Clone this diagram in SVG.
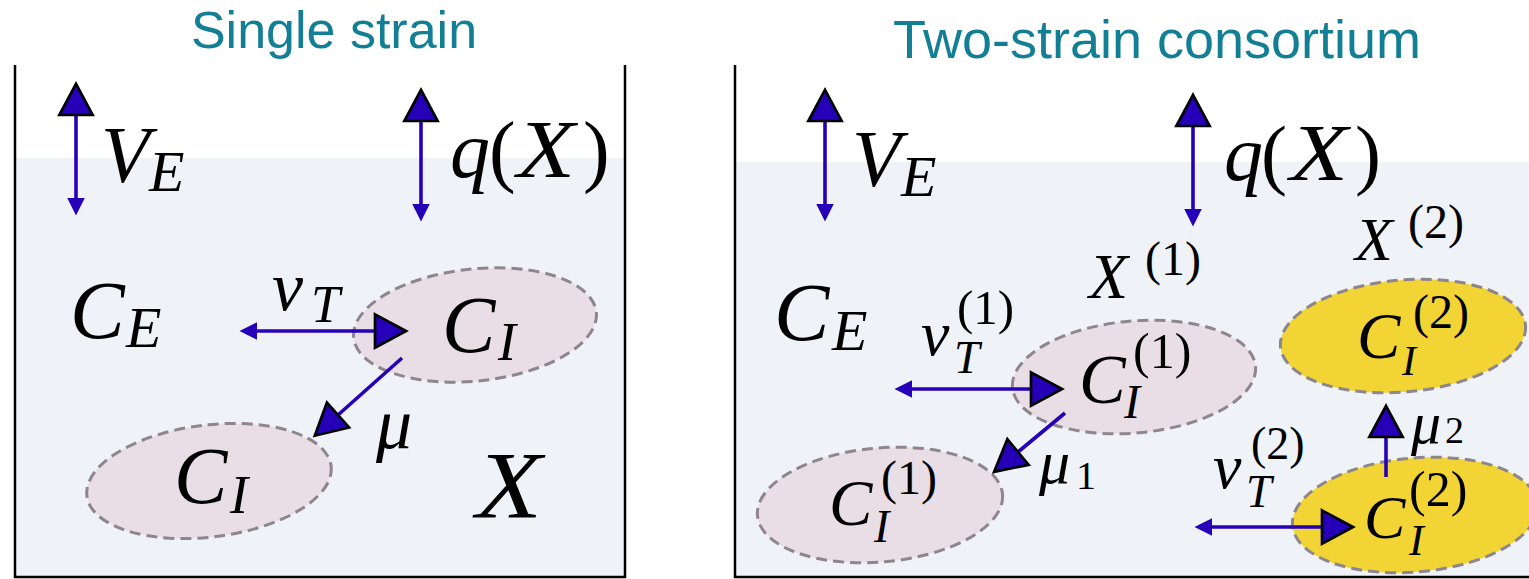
<svg xmlns="http://www.w3.org/2000/svg" width="1529" height="579" viewBox="0 0 1529 579">
<style>
.title{font-family:"Liberation Sans",Arial,sans-serif;fill:#137f95;}
.m{font-family:"Liberation Serif","DejaVu Serif",serif;font-style:italic;fill:#000;}
.u{font-family:"Liberation Serif","DejaVu Serif",serif;font-style:normal;fill:#000;}
.wall{stroke:#000;stroke-width:2.5;fill:none;}
.liq{fill:#eff3f8;}
.pink{fill:#e9dee6;stroke:#8e868c;stroke-width:3;stroke-dasharray:11 6;}
.yel{fill:#f2d435;stroke:#8e868c;stroke-width:3;stroke-dasharray:11 6;}
.arr{stroke:#2600b8;stroke-width:3.6;fill:none;marker-start:url(#small);marker-end:url(#big);}
.arr1{stroke:#2600b8;stroke-width:3.6;fill:none;marker-end:url(#big);}
</style>
<defs>
<marker id="big" markerUnits="userSpaceOnUse" markerWidth="40" markerHeight="40" viewBox="-2 -18 32 36" refX="0" refY="0" orient="auto" overflow="visible">
<path d="M0,-15 L28,0 L0,15 Z" fill="#2600b8" stroke="#000" stroke-width="2.4" stroke-linejoin="miter"/>
</marker>
<marker id="small" markerUnits="userSpaceOnUse" markerWidth="20" markerHeight="20" viewBox="0 -8 15 16" refX="0" refY="0" orient="auto-start-reverse" overflow="visible">
<path d="M0,-7 L14,0 L0,7 Z" fill="#2600b8"/>
</marker>
</defs>

<g id="single-strain">
<text class="title" x="334" y="48" font-size="52" text-anchor="middle">Single strain</text>
<rect class="liq" x="15" y="158" width="610" height="419"/>
<path class="wall" d="M15,65 V577 H625 V65"/>
</g>

<g id="two-strain">
<text class="title" x="1157" y="58" font-size="54" text-anchor="middle">Two-strain consortium</text>
<rect class="liq" x="735" y="162" width="794" height="415"/>
<path class="wall" d="M735,65 V577 H1529"/>
</g>

<g id="cells">
<ellipse id="L-CI-top" class="pink" cx="475" cy="325" rx="122" ry="56" transform="rotate(-6 475 325)"/>
<ellipse id="L-CI-bottom" class="pink" cx="209" cy="481" rx="123" ry="56" transform="rotate(-7 209 481)"/>
<ellipse id="R-CI1-top" class="pink" cx="1134" cy="377" rx="122" ry="56" transform="rotate(-5 1134 377)"/>
<ellipse id="R-CI1-bottom" class="pink" cx="880" cy="505" rx="123" ry="57" transform="rotate(-5 880 505)"/>
<ellipse id="R-CI2-top" class="yel" cx="1403" cy="336" rx="123" ry="56" transform="rotate(-5 1403 336)"/>
<ellipse id="R-CI2-bottom" class="yel" cx="1415" cy="515" rx="123" ry="57" transform="rotate(-5 1415 515)"/>
</g>

<g id="connectors">
<line class="arr" x1="76" y1="198" x2="76" y2="115"/>
<line class="arr" x1="421" y1="204" x2="421" y2="121"/>
<line class="arr" x1="257" y1="331" x2="375" y2="331"/>
<line class="arr1" x1="402" y1="358" x2="338" y2="415"/>
<line class="arr" x1="825" y1="204" x2="825" y2="121"/>
<line class="arr" x1="1193" y1="209" x2="1193" y2="126"/>
<line class="arr" x1="912" y1="389" x2="1031" y2="389"/>
<line class="arr1" x1="1065" y1="413" x2="1018" y2="452"/>
<line class="arr" x1="1212" y1="527" x2="1322" y2="527"/>
<line class="arr1" x1="1386" y1="477" x2="1386" y2="437"/>
</g>

<g id="labels-left">
<g id="L-VE"><text class="m" x="101" y="182" font-size="80">V</text><text class="m" x="149" y="191" font-size="58">E</text></g>
<g id="L-qX"><text class="m" x="450" y="177" font-size="80">q</text><text class="u" x="489" y="177" font-size="80">(</text><text class="m" x="517" y="177" font-size="82" textLength="58" lengthAdjust="spacingAndGlyphs">X</text><text class="u" x="583" y="177" font-size="80">)</text></g>
<g id="L-CE"><text class="m" x="70" y="338" font-size="82">C</text><text class="m" x="126" y="347" font-size="58">E</text></g>
<g id="L-nuT"><text class="m" x="272" y="310" font-size="70">ν</text><text class="m" x="311" y="322" font-size="52">T</text></g>
<g id="L-CI1"><text class="m" x="442" y="352" font-size="80">C</text><text class="m" x="498" y="360" font-size="54">I</text></g>
<g id="L-mu"><text class="m" x="376" y="448" font-size="72">μ</text></g>
<g id="L-X"><text class="m" x="476" y="518" font-size="96" textLength="66" lengthAdjust="spacingAndGlyphs">X</text></g>
<g id="L-CI2"><text class="m" x="174" y="503" font-size="80">C</text><text class="m" x="230" y="513" font-size="54">I</text></g>
</g>

<g id="labels-right">
<g id="R-VE"><text class="m" x="852" y="186" font-size="80">V</text><text class="m" x="901" y="196" font-size="58">E</text></g>
<g id="R-qX"><text class="m" x="1224" y="180" font-size="78">q</text><text class="u" x="1261" y="180" font-size="78">(</text><text class="m" x="1290" y="180" font-size="80" textLength="58" lengthAdjust="spacingAndGlyphs">X</text><text class="u" x="1355" y="180" font-size="78">)</text></g>
<g id="R-X1"><text class="m" x="1089" y="298" font-size="64">X</text><text class="u" x="1145" y="275" font-size="48">(1)</text></g>
<g id="R-X2"><text class="m" x="1355" y="260" font-size="62">X</text><text class="u" x="1408" y="238" font-size="48">(2)</text></g>
<g id="R-CE"><text class="m" x="774" y="340" font-size="83">C</text><text class="m" x="832" y="350" font-size="58">E</text></g>
<g id="R-nuT1"><text class="m" x="921" y="355" font-size="64">ν</text><text class="m" x="954" y="373" font-size="46">T</text><text class="u" x="957" y="324" font-size="49">(1)</text></g>
<g id="R-CI1a"><text class="m" x="1079" y="403" font-size="70">C</text><text class="u" x="1133" y="368" font-size="50">(1)</text><text class="m" x="1124" y="418" font-size="48">I</text></g>
<g id="R-mu1"><text class="m" x="1039" y="483" font-size="62">μ</text><text class="u" x="1076" y="489" font-size="40">1</text></g>
<g id="R-CI1b"><text class="m" x="829" y="525" font-size="65">C</text><text class="u" x="881" y="494" font-size="48">(1)</text><text class="m" x="874" y="542" font-size="46">I</text></g>
<g id="R-CI2a"><text class="m" x="1357" y="358" font-size="65">C</text><text class="u" x="1413" y="328" font-size="48">(2)</text><text class="m" x="1402" y="375" font-size="42">I</text></g>
<g id="R-mu2"><text class="m" x="1411" y="443" font-size="60">μ</text><text class="u" x="1445" y="443" font-size="38">2</text></g>
<g id="R-nuT2"><text class="m" x="1213" y="488" font-size="64">ν</text><text class="m" x="1246" y="507" font-size="46">T</text><text class="u" x="1251" y="459" font-size="46">(2)</text></g>
<g id="R-CI2b"><text class="m" x="1364" y="538" font-size="62">C</text><text class="u" x="1409" y="506" font-size="50">(2)</text><text class="m" x="1409" y="555" font-size="44">I</text></g>
</g>
</svg>
